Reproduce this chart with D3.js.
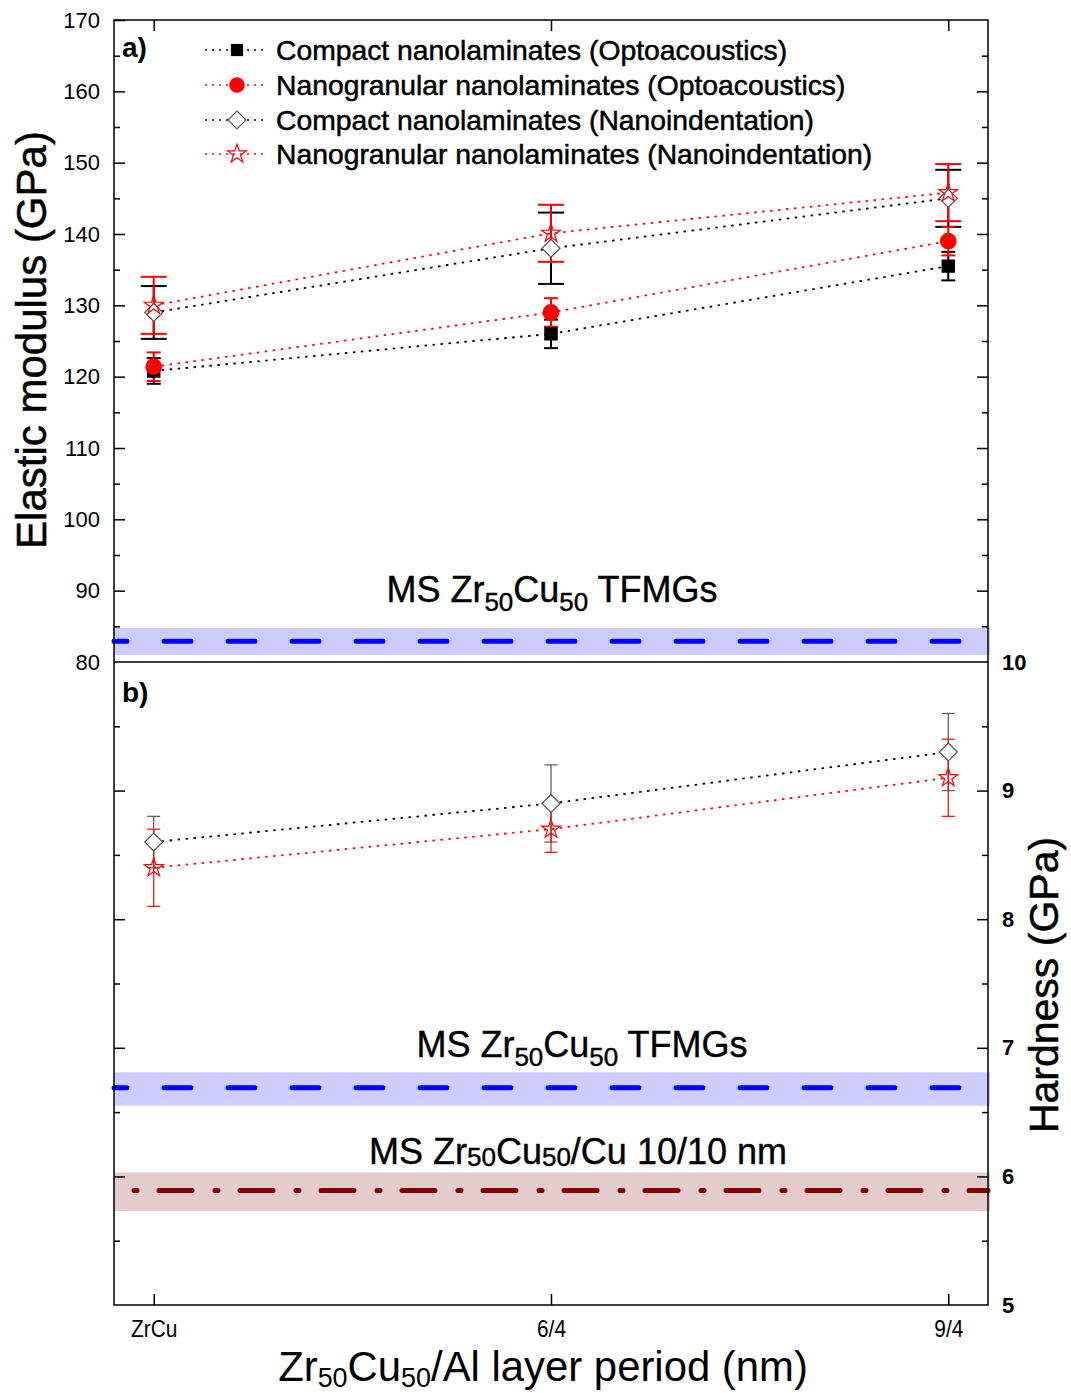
<!DOCTYPE html>
<html><head><meta charset="utf-8">
<script src="https://cdn.jsdelivr.net/npm/d3@7"></script>
<style>
body{margin:0;background:#fff;}
svg{font-family:"Liberation Sans",Arial,sans-serif;}
</style></head><body>
<svg id="c" width="1071" height="1393"></svg>
<script>
// ---------- DATA ----------
const categories = ["ZrCu", "6/4", "9/4"];
// Panel a) Elastic modulus (GPa)
const compactOpto = [120.8, 126.0, 135.5];
const compactOptoErr = [1.8, 2.0, 2.0];
const granularOpto = [121.4, 129.0, 139.0];
const granularOptoErr = [2.0, 2.0, 2.0];
const compactIndentE = [129.0, 138.0, 145.0];
const compactIndentEErr = [3.7, 5.0, 4.0];
const granularIndentE = [130.0, 140.1, 145.8];
const granularIndentEErr = [4.0, 4.0, 4.0];
// Panel b) Hardness (GPa)
const compactIndentH = [8.6, 8.9, 9.3];
const compactIndentHErr = [0.2, 0.3, 0.3];
const granularIndentH = [8.4, 8.7, 9.1];
const granularIndentHErr = [0.3, 0.18, 0.3];
// Reference bands
const refE = {value: 82.9, lo: 81.0, hi: 84.8};
const refH = {value: 6.69, lo: 6.55, hi: 6.81};
const refHCu = {value: 5.89, lo: 5.73, hi: 6.03};
const yTicksE = [80, 90, 100, 110, 120, 130, 140, 150, 160, 170];
const yTicksH = [5, 6, 7, 8, 9, 10];
const legendLabels = [
  "Compact nanolaminates (Optoacoustics)",
  "Nanogranular nanolaminates (Optoacoustics)",
  "Compact nanolaminates (Nanoindentation)",
  "Nanogranular nanolaminates (Nanoindentation)"
];

// ---------- LAYOUT ----------
const L = 114, R = 988, T = 20, M = 662, B = 1305;
const svg = d3.select("#c");
const x = d3.scaleLinear().domain([-0.1, 2.1]).range([L, R]);
const yE = d3.scaleLinear().domain([80, 170]).range([M, T]);
const yH = d3.scaleLinear().domain([5, 10]).range([B, M]);

// ---------- BANDS ----------
function band(y, ref, fill, color, dash, offset, w) {
  svg.append("rect").attr("x", L).attr("width", R - L + 2)
    .attr("y", y(ref.hi)).attr("height", y(ref.lo) - y(ref.hi)).attr("fill", fill);
  svg.append("line").attr("x1", L).attr("x2", R).attr("y1", y(ref.value)).attr("y2", y(ref.value))
    .attr("stroke", color).attr("stroke-width", w).attr("stroke-dasharray", dash)
    .attr("stroke-dashoffset", offset).attr("stroke-linecap", "round");
}
band(yE, refE, "#ccccff", "#0000ff", "27,37", 14, 5);
band(yH, refH, "#ccccff", "#0000ff", "27,37", 14, 5);
band(yH, refHCu, "#e5cccc", "#800000", "3,22,33,23", 61, 5);

// ---------- AXES ----------
function ax(gen, tr) {
  const g = svg.append("g").attr("transform", tr).call(gen);
  g.select(".domain").remove();
  g.selectAll("line").attr("stroke", "#000").attr("stroke-width", 1.5);
  return g;
}
const minorE = d3.range(85, 170, 10);
const minorH = d3.range(5.5, 10, 1);
// top panel left
let g = ax(d3.axisLeft(yE).tickValues(yTicksE).tickSize(-11).tickPadding(14).tickFormat(d3.format("d")), `translate(${L},0)`);
g.selectAll("text").attr("font-size", 22).attr("fill", "#000").attr("font-family", "Liberation Sans, Arial");
g.selectAll(".tick").filter(d => d === 80).select("line").remove();
ax(d3.axisLeft(yE).tickValues(minorE).tickSize(-6).tickFormat(""), `translate(${L},0)`);
// top panel right
ax(d3.axisRight(yE).tickValues(yTicksE.filter(d => d > 80 && d < 170)).tickSize(-11).tickFormat(""), `translate(${R},0)`);
ax(d3.axisRight(yE).tickValues(minorE).tickSize(-6).tickFormat(""), `translate(${R},0)`);
// top panel top ticks
ax(d3.axisTop(x).tickValues([0, 1, 2]).tickSize(-11).tickFormat(""), `translate(0,${T})`);
// bottom panel left
ax(d3.axisLeft(yH).tickValues(yTicksH.filter(d => d > 5 && d < 10)).tickSize(-11).tickFormat(""), `translate(${L},0)`);
ax(d3.axisLeft(yH).tickValues(minorH).tickSize(-6).tickFormat(""), `translate(${L},0)`);
// bottom panel right
g = ax(d3.axisRight(yH).tickValues(yTicksH).tickSize(-11).tickPadding(14).tickFormat(d3.format("d")), `translate(${R},0)`);
g.selectAll("text").attr("font-size", 22).attr("fill", "#000").attr("font-weight", "bold");
g.selectAll(".tick").filter(d => d === 5 || d === 10).select("line").remove();
ax(d3.axisRight(yH).tickValues(minorH).tickSize(-6).tickFormat(""), `translate(${R},0)`);
// bottom x axis
g = ax(d3.axisBottom(x).tickValues([0, 1, 2]).tickSize(-11).tickPadding(0).tickFormat(i => categories[i]), `translate(0,${B})`);
g.selectAll("text").attr("font-size", 24).attr("fill", "#000").attr("dy", null).attr("y", 0)
  .attr("transform", "translate(0,32) scale(0.87,1)");

// frames
svg.append("rect").attr("x", L).attr("y", T).attr("width", R - L).attr("height", B - T)
  .attr("fill", "none").attr("stroke", "#000").attr("stroke-width", 1.5);
svg.append("line").attr("x1", L).attr("x2", R).attr("y1", M).attr("y2", M).attr("stroke", "#000").attr("stroke-width", 1.5);

// ---------- SERIES ----------
function errorBars(vals, errs, y, color, w, cap) {
  const gg = svg.append("g").attr("stroke", color).attr("stroke-width", w);
  vals.forEach((v, i) => {
    const cx = x(i);
    gg.append("line").attr("x1", cx).attr("x2", cx).attr("y1", y(v - errs[i])).attr("y2", y(v + errs[i]));
    [v - errs[i], v + errs[i]].forEach(e =>
      gg.append("line").attr("x1", cx - cap / 2).attr("x2", cx + cap / 2).attr("y1", y(e)).attr("y2", y(e)));
  });
}
function seriesLine(vals, y, color) {
  svg.append("path").datum(vals)
    .attr("d", d3.line().x((d, i) => x(i)).y(d => y(d)))
    .attr("fill", "none").attr("stroke", color).attr("stroke-width", 1.8).attr("stroke-dasharray", "2.5,5.5");
}
const symSquare = d3.symbol().type(d3.symbolSquare).size(150);
const symCircle = d3.symbol().type(d3.symbolCircle).size(190);
const symStar = d3.symbol().type(d3.symbolStar).size(110);
function markers(vals, y, sym, fill, stroke) {
  vals.forEach((v, i) => {
    svg.append("path").attr("d", sym()).attr("transform", `translate(${x(i)},${y(v)})`)
      .attr("fill", fill).attr("stroke", stroke).attr("stroke-width", 1.2);
  });
}
function diamondPath(s) { return `M0,${-s}L${s},0L0,${s}L${-s},0Z`; }
function diamonds(vals, y) {
  vals.forEach((v, i) => svg.append("path").attr("d", diamondPath(9)).attr("transform", `translate(${x(i)},${y(v)})`)
    .attr("fill", "#fff").attr("stroke", "#555").attr("stroke-width", 1.2));
}

// Panel a
errorBars(compactIndentE, compactIndentEErr, yE, "#000", 2, 26);
errorBars(granularIndentE, granularIndentEErr, yE, "#ff0000", 2, 26);
errorBars(compactOpto, compactOptoErr, yE, "#000", 2, 14);
errorBars(granularOpto, granularOptoErr, yE, "#ff0000", 2, 14);
seriesLine(compactOpto, yE, "#000");
seriesLine(granularOpto, yE, "#ff0000");
seriesLine(compactIndentE, yE, "#000");
seriesLine(granularIndentE, yE, "#ff0000");
markers(compactOpto, yE, symSquare, "#000", "#000");
markers(granularOpto, yE, symCircle, "#ff0000", "#ff0000");
diamonds(compactIndentE, yE);
markers(granularIndentE, yE, symStar, "none", "#ff0000");

// Panel b
errorBars(compactIndentH, compactIndentHErr, yH, "#555", 1.2, 13);
errorBars(granularIndentH, granularIndentHErr, yH, "#ff0000", 1.2, 13);
seriesLine(compactIndentH, yH, "#000");
seriesLine(granularIndentH, yH, "#ff0000");
diamonds(compactIndentH, yH);
markers(granularIndentH, yH, symStar, "none", "#ff0000");

// ---------- LEGEND ----------
const legY = [50, 85, 120, 154];
const legColors = ["#000", "#ff0000", "#000", "#ff0000"];
legendLabels.forEach((lab, i) => {
  const yy = legY[i];
  svg.append("line").attr("x1", 205).attr("x2", 266).attr("y1", yy).attr("y2", yy)
    .attr("stroke", legColors[i]).attr("stroke-width", 1.6).attr("stroke-dasharray", "2,5");
  const tr = `translate(237,${yy})`;
  if (i === 0) svg.append("path").attr("d", symSquare()).attr("transform", tr).attr("fill", "#000");
  if (i === 1) svg.append("path").attr("d", symCircle()).attr("transform", tr).attr("fill", "#ff0000");
  if (i === 2) svg.append("path").attr("d", diamondPath(9)).attr("transform", tr).attr("fill", "#fff").attr("stroke", "#555").attr("stroke-width", 1.2);
  if (i === 3) svg.append("path").attr("d", symStar()).attr("transform", tr).attr("fill", "none").attr("stroke", "#ff0000").attr("stroke-width", 1.2);
  svg.append("text").attr("x", 276).attr("y", yy + 10).attr("font-size", 28.3)
    .attr("stroke", "#000").attr("stroke-width", 0.5).text(lab);
});

// ---------- TEXT ----------
svg.append("text").attr("x", 122).attr("y", 57).attr("font-size", 28).attr("font-weight", "bold").text("a)");
svg.append("text").attr("x", 122).attr("y", 702).attr("font-size", 28).attr("font-weight", "bold").text("b)");

function msLabel(cx, by, extra, subShift) {
  const t = svg.append("text").attr("x", cx).attr("y", by).attr("font-size", 36).attr("text-anchor", "middle")
    .attr("stroke", "#000").attr("stroke-width", 0.4);
  t.append("tspan").text("MS Zr");
  t.append("tspan").attr("font-size", 26).attr("dy", subShift).text("50");
  t.append("tspan").attr("dy", -subShift).text("Cu");
  t.append("tspan").attr("font-size", 26).attr("dy", subShift).text("50");
  t.append("tspan").attr("dy", -subShift).text(extra);
}
msLabel(552, 602, " TFMGs", 9);
msLabel(582, 1057, " TFMGs", 9);
msLabel(578, 1164, "/Cu 10/10 nm", 2);

svg.append("text").attr("transform", "translate(46,340) rotate(-90)").attr("text-anchor", "middle")
  .attr("font-size", 42).attr("stroke", "#000").attr("stroke-width", 0.5).text("Elastic modulus (GPa)");
svg.append("text").attr("transform", "translate(1058,985) rotate(-90)").attr("text-anchor", "middle")
  .attr("font-size", 41).attr("stroke", "#000").attr("stroke-width", 0.5).text("Hardness (GPa)");

const xtg = svg.append("g").attr("transform", "translate(543,1381)");
const xt = xtg.append("text").attr("x", 0).attr("y", 0).attr("text-anchor", "middle").attr("font-size", 42);
xt.append("tspan").text("Zr");
xt.append("tspan").attr("font-size", 27).attr("dy", 6).text("50");
xt.append("tspan").attr("dy", -6).text("Cu");
xt.append("tspan").attr("font-size", 27).attr("dy", 6).text("50");
xt.append("tspan").attr("dy", -6).text("/Al layer period (nm)");
const w = xt.node().getComputedTextLength();
xt.attr("transform", `scale(${530 / w},1)`);
</script>
</body></html>
